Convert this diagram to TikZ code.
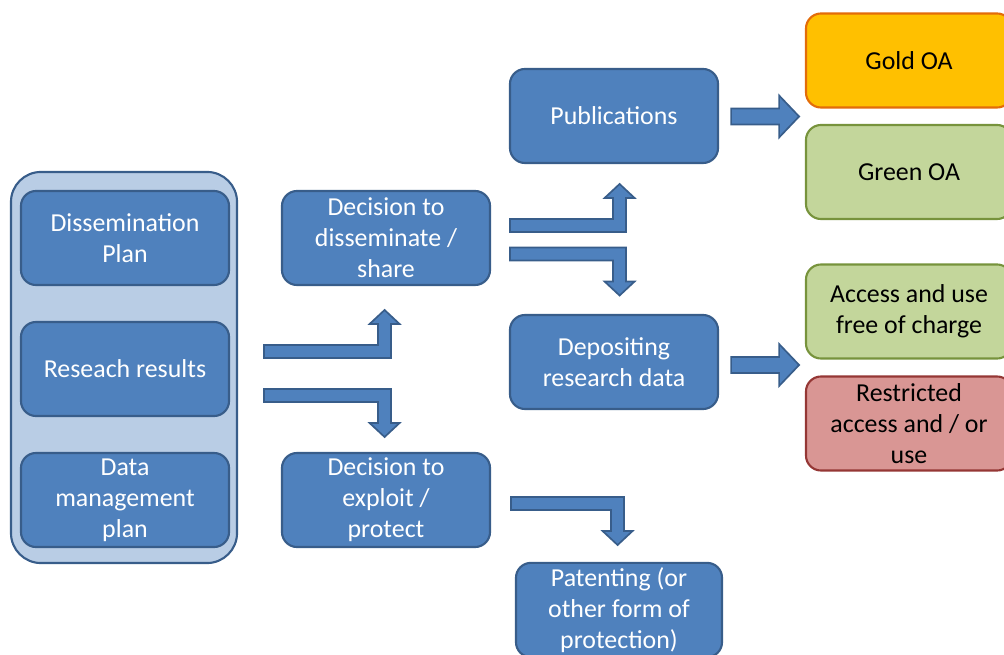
\documentclass[tikz,border=0pt]{standalone}
\usepackage{fontspec}
\setmainfont{Carlito}
\usetikzlibrary{calc}

% Bent block arrow: start point, bar length, direction (1 = up, -1 = down).
\newcommand{\bentarrow}[3]{%
  \draw [blockarrow] (#1)
        ++(0, {-6.5*#3}) -- ++({#2-13}, 0) -- ++(0, {-21*#3})
        -- ++(-8.5, 0) -- ++(15, {-14*#3}) -- ++(15, {14*#3}) -- ++(-8.5, 0)
        -- ++(0, {34*#3}) -- ++({-#2}, 0) -- cycle;}
% Straight block arrow to the right.
\newcommand{\rightarrowblock}[1]{%
  \draw [blockarrow] (#1)
        ++(0, -8) -- ++(48, 0) -- ++(0, -13) -- ++(20, 21) -- ++(-20, 21)
        -- ++(0, -13) -- ++(-48, 0) -- cycle;}

\definecolor{boxblue}{HTML}{4F81BD}
\definecolor{edgeblue}{HTML}{385D8A}
\definecolor{paleblue}{HTML}{B9CDE5}
\definecolor{goldfill}{HTML}{FFC000}
\definecolor{goldedge}{HTML}{E36C09}
\definecolor{greenfill}{HTML}{C3D69B}
\definecolor{greenedge}{HTML}{77933C}
\definecolor{redfill}{HTML}{D99694}
\definecolor{rededge}{HTML}{953735}

\begin{document}
\begin{tikzpicture}[x=0.025cm, y=-0.025cm,
    step box/.style = {rectangle, rounded corners=0.375cm, line width=1.5pt,
                       minimum width=5.2cm, minimum height=2.35cm, align=center,
                       font=\fontsize{18.4}{22}\selectfont},
    bluebox/.style = {step box, draw=edgeblue, fill=boxblue, text=white},
    goldbox/.style = {step box, draw=goldedge, fill=goldfill, minimum width=5.15cm},
    greenbox/.style = {step box, draw=greenedge, fill=greenfill, minimum width=5.15cm},
    redbox/.style = {step box, draw=rededge, fill=redfill, minimum width=5.15cm},
    blockarrow/.style = {draw=edgeblue, fill=boxblue, line width=1.2pt, line join=miter}]
  \useasboundingbox (0, 0) rectangle (1004, 655);
  \clip (0, 0) rectangle (1004, 655);

  % Container.
  \node at (124, 367.5) [rectangle, rounded corners=0.75cm, draw=edgeblue, line width=1.5pt,
                         fill=paleblue, minimum width=5.65cm, minimum height=9.775cm,
                         name=Container] {};

  % Left column.
  \node at (125, 238) [bluebox, name=DisseminationPlan] {Dissemination\\Plan};
  \node at (125, 369) [bluebox, name=ResearchResults] {Reseach results};
  \node at (125, 500) [bluebox, name=DataPlan] {Data\\management\\plan};

  % Decisions.
  \node at (386, 238) [bluebox, name=Disseminate] {Decision to\\disseminate /\\share};
  \node at (386, 500) [bluebox, name=Exploit] {Decision to\\exploit /\\protect};

  % Outputs.
  \node at (614, 116) [bluebox, name=Publications] {Publications};
  \node at (614, 362) [bluebox, name=Depositing] {Depositing\\research data};
  \node at (619, 610) [bluebox, minimum width=5.15cm, name=Patenting] {Patenting (or\\other form of\\protection)};

  % Access routes.
  \node at (909, 60.5) [goldbox, name=GoldOA] {Gold OA};
  \node at (909, 172) [greenbox, name=GreenOA] {Green OA};
  \node at (909, 311.5) [greenbox, name=FreeAccess] {Access and use\\free of charge};
  \node at (909, 423.5) [redbox, name=Restricted] {Restricted\\access and / or\\use};

  % Start points of the block arrows.
  \coordinate (toShare) at ($(ResearchResults.east) + (34, -17.5)$);
  \coordinate (toExploit) at ($(ResearchResults.east) + (34, 26.5)$);
  \coordinate (toPublications) at ($(Disseminate.east) + (19, -12.5)$);
  \coordinate (toDepositing) at ($(Disseminate.east) + (19, 16)$);
  \coordinate (toPatenting) at ($(Exploit.east) + (20, 3.5)$);
  \coordinate (toOA) at ($(Publications.east) + (12, 0.5)$);
  \coordinate (toData) at ($(Depositing.east) + (12, 3)$);

  % Block arrows.
  \bentarrow{toShare}{127}{1}
  \bentarrow{toExploit}{127}{-1}
  \bentarrow{toPublications}{116}{1}
  \bentarrow{toDepositing}{116}{-1}
  \bentarrow{toPatenting}{113}{-1}
  \rightarrowblock{toOA}
  \rightarrowblock{toData}
\end{tikzpicture}
\end{document}
